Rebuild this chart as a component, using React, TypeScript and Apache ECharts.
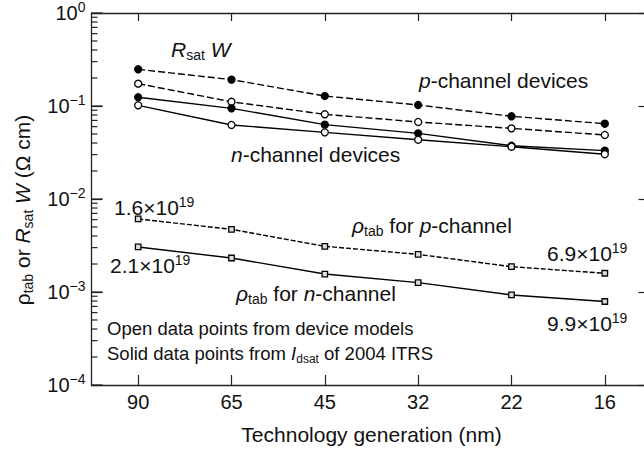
import React, { useEffect, useRef } from "react";
import * as echarts from "echarts";

// Technology generations (nm) on the x axis
const categories = ["90", "65", "45", "32", "22", "16"];

// R_sat·W (Ω·cm)
const pSolid = [0.248, 0.192, 0.128, 0.1025, 0.0775, 0.0645]; // p-channel, from ITRS Idsat
const pOpen = [0.174, 0.111, 0.0814, 0.0673, 0.0575, 0.0488]; // p-channel, device models
const nSolid = [0.124, 0.0944, 0.063, 0.0508, 0.0374, 0.0331]; // n-channel, from ITRS Idsat
const nOpen = [0.1017, 0.0625, 0.0521, 0.0434, 0.0365, 0.0303]; // n-channel, device models

// Tab resistivity ρ_tab (Ω·cm)
const rhoP = [0.0061, 0.00472, 0.0031, 0.00254, 0.00187, 0.00159];
const rhoN = [0.00305, 0.00232, 0.00156, 0.00126, 0.00093, 0.00079];

// Log-axis range, decade exponents and minor-tick mantissas
const yMin = 1e-4;
const yMax = 1;
const decadeExponents = [-4, -3, -2, -1, 0];
const minorMantissas = [2, 3, 4, 5, 6, 7, 8, 9];

const FONT = "'Liberation Sans', Arial, Helvetica, sans-serif";
const INK = "#111";
const GRID = { left: 91.5, top: 13, width: 560, height: 372, containLabel: false, outerBoundsMode: "none" };

const rich = (size: number) => ({
  r: { fontSize: size, lineHeight: size + 4, fontFamily: FONT, color: INK },
  g: { fontSize: size, lineHeight: size + 4, fontFamily: FONT, color: INK },
  i: { fontSize: size, lineHeight: size + 4, fontFamily: FONT, fontStyle: "italic", color: INK },
  sub: { fontSize: Math.round(size * 0.66), lineHeight: 12, verticalAlign: "bottom", fontFamily: FONT, color: INK },
  sup: { fontSize: Math.round(size * 0.66), lineHeight: 12, verticalAlign: "top", fontFamily: FONT, color: INK },
});

const note = (x: number, y: number, text: string, size = 21, rotation = 0, align = "left") => ({
  type: "text",
  x,
  y,
  rotation,
  silent: true,
  z: 50,
  style: {
    text,
    rich: rich(size),
    fontFamily: FONT,
    fontSize: size,
    fill: INK,
    align,
    verticalAlign: "middle",
  },
});

export default function App() {
  const ref = useRef<HTMLDivElement>(null);
  const tickRef = useRef<HTMLDivElement>(null);

  useEffect(() => {
    if (!ref.current || !tickRef.current) return;
    const chart = echarts.init(ref.current, null, { renderer: "svg" });

    const lineSeries = (
      name: string,
      data: number[],
      dashed: number[] | null,
      symbol: string,
      size: number,
      fill: string
    ) => ({
      name,
      type: "line",
      data,
      symbol,
      symbolSize: size,
      showSymbol: true,
      lineStyle: { color: "#000", width: 1.4, type: dashed ? dashed : "solid" },
      itemStyle: { color: fill, borderColor: "#000", borderWidth: 1.3 },
      z: 3,
    });

    chart.setOption({
      animation: false,
      backgroundColor: "#fff",
      grid: GRID,
      xAxis: [
        {
          type: "category",
          data: categories,
          position: "bottom",
          boundaryGap: true,
          axisLine: { show: true, lineStyle: { color: "#222", width: 1.3 } },
          axisTick: { show: true, inside: true, length: 10, alignWithLabel: true, lineStyle: { color: "#222", width: 1.2 } },
          axisLabel: { fontSize: 20, fontFamily: FONT, color: INK, margin: 7 },
          splitLine: { show: false },
          name: "Technology generation (nm)",
          nameLocation: "middle",
          nameGap: 39,
          nameTextStyle: { fontSize: 21, fontFamily: FONT, color: INK },
        },
        {
          type: "category",
          data: categories,
          position: "top",
          boundaryGap: true,
          axisLine: { show: true, lineStyle: { color: "#222", width: 1.3 } },
          axisTick: { show: true, inside: true, length: 8, alignWithLabel: true, lineStyle: { color: "#222", width: 1.2 } },
          axisLabel: { show: false },
          splitLine: { show: false },
        },
      ],
      yAxis: [
        {
          type: "log",
          logBase: 10,
          min: yMin,
          max: yMax,
          splitNumber: 4,
          position: "left",
          axisLine: { show: true, lineStyle: { color: "#222", width: 1.3 } },
          axisTick: { show: true, inside: true, length: 11, lineStyle: { color: "#222", width: 1.2 } },
          splitLine: { show: false },
          axisLabel: {
            margin: 6,
            formatter: (v: number) => {
              const ex = Math.round(Math.log10(v));
              const s = ex < 0 ? "\u2212" + -ex : String(ex);
              return `{b|10}{s|${s}}`;
            },
            rich: {
              b: { fontSize: 20, lineHeight: 26, fontFamily: FONT, color: INK },
              s: { fontSize: 14, lineHeight: 14, verticalAlign: "top", fontFamily: FONT, color: INK },
            },
          },
        },
        {
          type: "log",
          logBase: 10,
          min: yMin,
          max: yMax,
          splitNumber: 4,
          position: "right",
          axisLine: { show: true, lineStyle: { color: "#222", width: 1.3 } },
          axisTick: { show: true, inside: true, length: 13, lineStyle: { color: "#222", width: 1.2 } },
          axisLabel: { show: false },
          splitLine: { show: false },
        },
      ],
      series: [
        lineSeries("p-channel Rsat W (ITRS)", pSolid, [7, 3], "circle", 7, "#000"),
        lineSeries("p-channel Rsat W (model)", pOpen, [7, 3], "circle", 7, "#fff"),
        lineSeries("n-channel Rsat W (ITRS)", nSolid, null, "circle", 7, "#000"),
        lineSeries("n-channel Rsat W (model)", nOpen, null, "circle", 7, "#fff"),
        lineSeries("rho_tab p-channel", rhoP, [5, 2], "rect", 5.5, "#ddd"),
        lineSeries("rho_tab n-channel", rhoN, null, "rect", 5.5, "#ddd"),
      ],
      graphic: [
        note(22, 210, "{g|\u03c1}{sub|tab}{r| or }{i|R}{sub|sat}{r| }{i|W}{r| (\u03a9 cm)}", 21, Math.PI / 2, "center"),
        note(171, 49, "{i|R}{sub|sat}{r| }{i|W}"),
        note(419, 80.5, "{i|p}{r|-channel devices}"),
        note(231, 154, "{i|n}{r|-channel devices}"),
        note(114, 207.5, "{r|1.6\u00d710}{sup|19}"),
        note(110, 265.5, "{r|2.1\u00d710}{sup|19}"),
        note(352, 225, "{i|\u03c1}{sub|tab}{r| for }{i|p}{r|-channel}"),
        note(547, 253.5, "{r|6.9\u00d710}{sup|19}"),
        note(236, 293.5, "{i|\u03c1}{sub|tab}{r| for }{i|n}{r|-channel}"),
        note(547, 323, "{r|9.9\u00d710}{sup|19}"),
        note(107, 328.5, "{r|Open data points from device models}", 18.5),
        note(107, 353.7, "{r|Solid data points from }{i|I}{sub|dsat}{r| of 2004 ITRS}", 18.5),
      ],
    });

    // Transparent overlay carrying the inward log ticks of the left axis,
    // positioned with an identical grid and log scale.
    const tickChart = echarts.init(tickRef.current, null, { renderer: "svg" });
    tickChart.setOption({
      animation: false,
      grid: GRID,
      xAxis: { type: "category", data: categories, show: false },
      yAxis: {
        type: "log",
        min: yMin,
        max: yMax,
        splitNumber: 4,
        axisLine: { show: false },
        axisTick: { show: false },
        axisLabel: { show: false },
        splitLine: { show: false },
      },
      series: [],
    });
    const tickBar = (value: number, len: number) => {
      const py = Number(tickChart.convertToPixel({ yAxisIndex: 0 }, value));
      return {
        type: "line",
        silent: true,
        shape: { x1: GRID.left, y1: py, x2: GRID.left + len, y2: py },
        style: { stroke: "#222", lineWidth: 1.2 },
      };
    };
    const tickLines: any[] = [];
    for (const e of decadeExponents) tickLines.push(tickBar(Math.pow(10, e), 11));
    for (const e of decadeExponents.slice(0, -1)) {
      for (const m of minorMantissas) tickLines.push(tickBar(m * Math.pow(10, e), 6));
    }
    tickChart.setOption({ graphic: tickLines });

    return () => {
      tickChart.dispose();
      chart.dispose();
    };
  }, []);

  return (
    <>
      <div
        ref={ref}
        style={{ position: "fixed", left: 0, top: 0, width: 644, height: 452, overflow: "hidden", background: "#fff" }}
      />
      <div
        ref={tickRef}
        style={{ position: "fixed", left: 0, top: 0, width: 644, height: 452, pointerEvents: "none", zIndex: 2 }}
      />
    </>
  );
}
